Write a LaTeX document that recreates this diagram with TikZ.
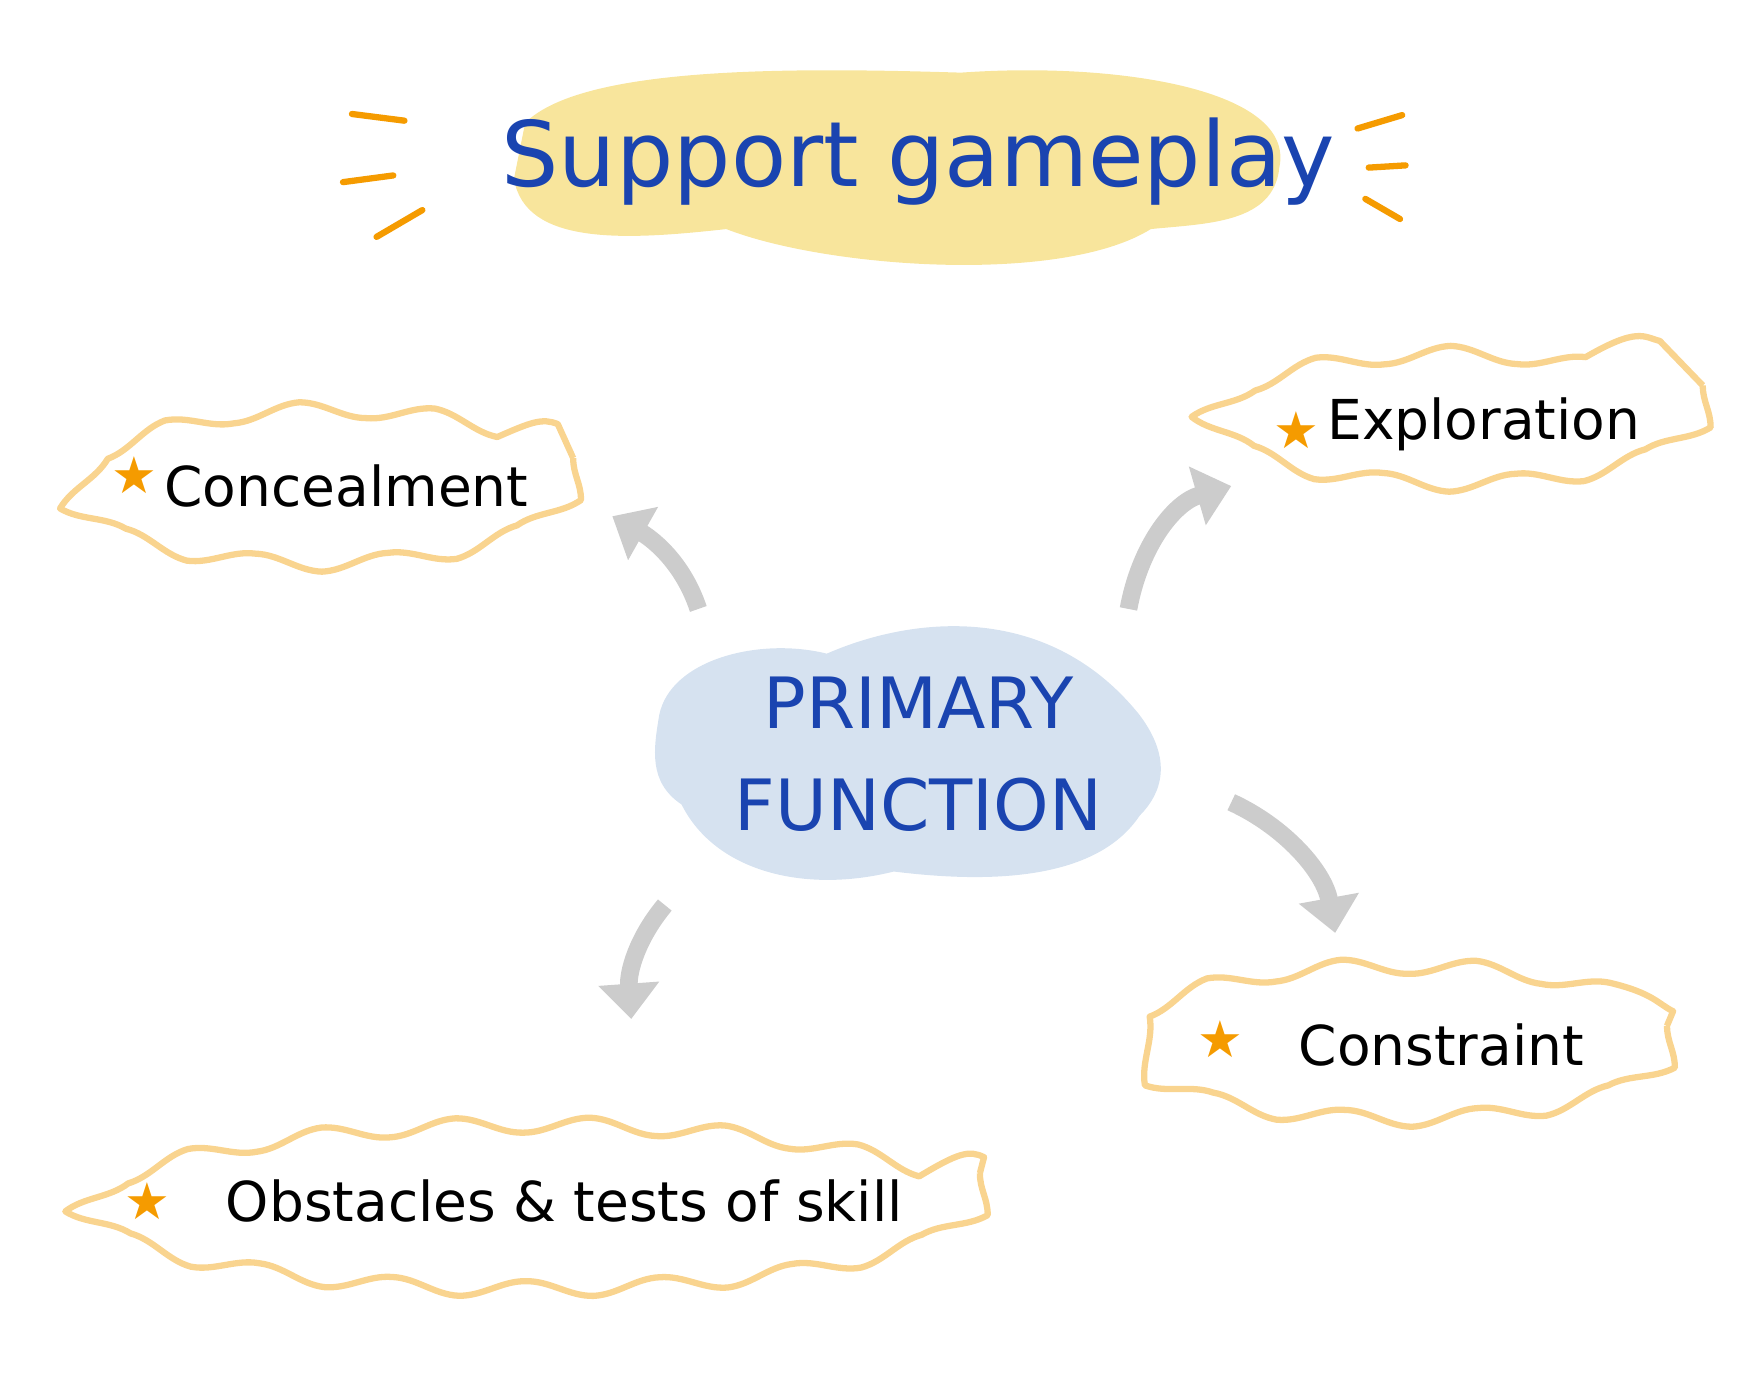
\documentclass[tikz,border=0pt]{standalone}
\usepackage{fontspec}
\setmainfont{DejaVu Sans}
\usetikzlibrary{decorations.pathmorphing,arrows.meta}
\definecolor{ttl}{HTML}{F8E59C}
\definecolor{cbl}{HTML}{D6E2F0}
\definecolor{bl}{HTML}{1A44B0}
\definecolor{ob}{HTML}{F9D48F}
\definecolor{od}{HTML}{F59B00}
\begin{document}
\begin{tikzpicture}[x=0.01cm,y=-0.01cm,
  wavy/.style={draw=ob,line width=1.6pt,line join=round,decorate,decoration={snake,amplitude=0.7mm,segment length=12mm}},
  star/.style={text=od,font=\fontsize{13}{13}\selectfont},
  lbl/.style={font=\fontsize{14}{14}\selectfont,text=black},
  dashl/.style={draw=od,line width=1.6pt,line cap=round},
  garrow/.style={draw=black!20,line width=4.5pt,-{Triangle[length=9pt,width=15pt]}}]
\useasboundingbox (0,0) rectangle (1560,1229);
% title
\fill[ttl] (470,110) .. controls (520,60) and (700,60) .. (860,65) .. controls (1000,55) and (1160,80) .. (1145,150) .. controls (1140,200) and (1080,200) .. (1030,205) .. controls (950,255) and (740,240) .. (650,205) .. controls (560,215) and (470,220) .. (460,160) -- cycle;
\node[text=bl,font=\fontsize{23}{23}\selectfont] (title) at (822,145) {Support gameplay};
\draw[dashl] (315,102) -- (362,108);
\draw[dashl] (307,163) -- (352,157);
\draw[dashl] (337,212) -- (378,188);
\draw[dashl] (1215,115) -- (1255,103);
\draw[dashl] (1225,150) -- (1258,148);
\draw[dashl] (1222,178) -- (1253,196);
% center
\fill[cbl] (590,640) .. controls (600,590) and (680,570) .. (740,585) .. controls (820,550) and (940,540) .. (1020,640) .. controls (1050,680) and (1040,710) .. (1020,730) .. controls (980,790) and (880,790) .. (800,780) .. controls (720,800) and (640,780) .. (610,720) .. controls (580,700) and (585,670) .. (590,640) -- cycle;
\node[align=center,text=bl,font=\fontsize{18}{26}\selectfont] (center) at (822,675) {PRIMARY\\FUNCTION};
% boxes
\draw[wavy] (285,410) ellipse (228 and 72);
\node[lbl] (conc) at (310,435) {Concealment};
\node[star] at (120,425) {★};
\draw[wavy] (1302,345) ellipse (222 and 66);
\node[lbl] (expl) at (1328,380) {Exploration};
\node[star] at (1160,385) {★};
\draw[wavy] (1250,918) ellipse (242 and 62);
\node[lbl] (cons) at (1290,935) {Constraint};
\node[star] at (1092,930) {★};
\draw[wavy] (472,1050) ellipse (405 and 82);
\node[lbl] (obst) at (505,1075) {Obstacles \& tests of skill};
\node[star] at (132,1075) {★};
% arrows
\coordinate (a1) at (625,545); \coordinate (b1) at (548,462);
\coordinate (a2) at (1010,545); \coordinate (b2) at (1102,435);
\coordinate (a3) at (1102,718); \coordinate (b3) at (1195,835);
\coordinate (a4) at (595,810); \coordinate (b4) at (565,912);
\draw[garrow] (a1) .. controls (610,500) and (580,480) .. (b1);
\draw[garrow] (a2) .. controls (1020,490) and (1050,450) .. (b2);
\draw[garrow] (a3) .. controls (1150,740) and (1185,780) .. (b3);
\draw[garrow] (a4) .. controls (570,840) and (562,870) .. (b4);
\end{tikzpicture}
\end{document}
